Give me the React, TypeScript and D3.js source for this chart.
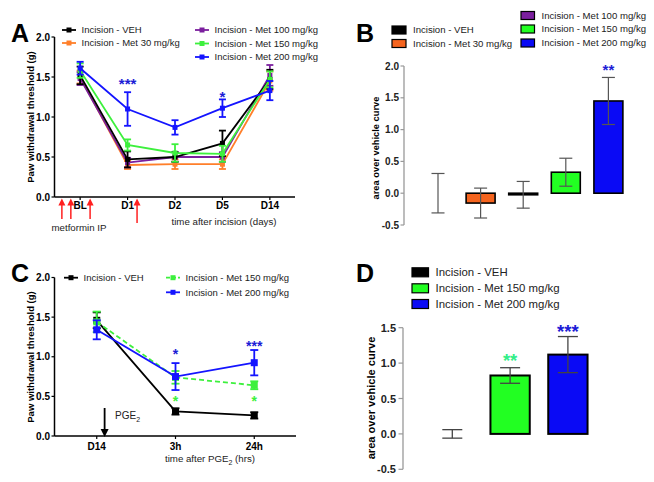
import React from "react";
import * as d3 from "d3";

const FONT = "'Liberation Sans', Arial, Helvetica, sans-serif";

// ---------- Panel A data ----------
const daysA = ["BL", "D1", "D2", "D5", "D14"];
const vehA = [1.52, 0.47, 0.5, 0.67, 1.47];
const vehAErr = [0.11, 0.1, 0.06, 0.16, 0.12];
const met30A = [1.5, 0.4, 0.41, 0.41, 1.45];
const met30AErr = [0.08, 0.05, 0.06, 0.06, 0.12];
const met100A = [1.48, 0.43, 0.5, 0.5, 1.52];
const met100AErr = [0.08, 0.06, 0.06, 0.06, 0.13];
const met150A = [1.58, 0.65, 0.55, 0.54, 1.47];
const met150AErr = [0.09, 0.07, 0.11, 0.1, 0.1];
const met200A = [1.61, 1.1, 0.87, 1.11, 1.33];
const met200AErr = [0.08, 0.21, 0.09, 0.11, 0.12];
const injectionsA = [-0.385, -0.196, 0.21, 1.2];
const starsA = [
  { i: 1, v: 1.46, t: "***" },
  { i: 3, v: 1.3, t: "*" },
];

// ---------- Panel B data ----------
const groupsB = [
  "Incision - VEH",
  "Incision - Met 30 mg/kg",
  "Incision - Met 100 mg/kg",
  "Incision - Met 150 mg/kg",
  "Incision - Met 200 mg/kg",
];
const valuesB = [0, -0.155, -0.025, 0.33, 1.45];
const errB = [0.31, 0.235, 0.21, 0.22, 0.37];
const starsB = [{ i: 4, v: 1.99, t: "**" }];

// ---------- Panel C data ----------
const timesC = ["D14", "3h", "24h"];
const vehC = [1.46, 0.31, 0.26];
const vehCErr = [0.1, 0.04, 0.04];
const met150C = [1.44, 0.74, 0.64];
const met150CErr = [0.13, 0.08, 0.05];
const met200C = [1.34, 0.75, 0.925];
const met200CErr = [0.12, 0.17, 0.16];
const pgeC = 0.1;
const starsC = [
  { i: 1, v: 1.07, t: "*", c: "#1c1cd6" },
  { i: 1, v: 0.48, t: "*", c: "#3df03d" },
  { i: 2, v: 1.18, t: "***", c: "#1c1cd6" },
  { i: 2, v: 0.48, t: "*", c: "#3df03d" },
];

// ---------- Panel D data ----------
const groupsD = ["Incision - VEH", "Incision - Met 150 mg/kg", "Incision - Met 200 mg/kg"];
const valuesD = [0, 0.825, 1.12];
const errD = [0.06, 0.11, 0.255];
const starsD = [
  { i: 1, v: 1.09, t: "**", c: "#33ee88" },
  { i: 2, v: 1.5, t: "***", c: "#1c1cd6" },
];

const ticksA = [0, 0.5, 1, 1.5, 2];
const ticksB = [-0.5, 0, 0.5, 1, 1.5, 2];
const ticksD = [-0.5, 0, 0.5, 1, 1.5];

const C = {
  veh: "#000000",
  m30: "#ff7f2a",
  m30bar: "#f5641e",
  m100: "#7b1f9e",
  m150: "#3df03d",
  m150bar: "#22ff22",
  m200: "#1414ff",
  m200bar: "#0a0af5",
  star: "#1c1cd6",
};

const fmt = (v: number) => v.toFixed(1);

function ErrBar({ x, y1, y2, cap, color, w = 1.8 }: any) {
  return (
    <g stroke={color} strokeWidth={w} fill="none">
      <line x1={x} x2={x} y1={y1} y2={y2} />
      <line x1={x - cap / 2} x2={x + cap / 2} y1={y1} y2={y1} />
      <line x1={x - cap / 2} x2={x + cap / 2} y1={y2} y2={y2} />
    </g>
  );
}

function Stars({ x, y, t, color, size }: any) {
  return (
    <text x={x} y={y + size * 0.58} fontSize={size} fontWeight="bold" fill={color} textAnchor="middle" fontFamily={FONT}>
      {t}
    </text>
  );
}

function LineSeries({ values, errs, color, x, y, cap, ms, dash, lw = 1.8 }: any) {
  const line = d3
    .line<number>()
    .x((_, i) => x(i))
    .y((d) => y(d));
  return (
    <g>
      <path d={line(values) || ""} fill="none" stroke={color} strokeWidth={lw} strokeDasharray={dash} />
      {values.map((v: number, i: number) => (
        <ErrBar key={"e" + i} x={x(i)} y1={y(v + errs[i])} y2={y(v - errs[i])} cap={cap} color={color} />
      ))}
      {values.map((v: number, i: number) => (
        <rect key={"m" + i} x={x(i) - ms / 2} y={y(v) - ms / 2} width={ms} height={ms} fill={color} />
      ))}
    </g>
  );
}

function LegendLine({ x, y, color, label, fs, dash }: any) {
  return (
    <g>
      <line x1={x} x2={x + 14} y1={y} y2={y} stroke={color} strokeWidth={1.8} strokeDasharray={dash} />
      <rect x={x + 4.5} y={y - 2.5} width={5} height={5} fill={color} />
      <text x={x + 19.5} y={y + fs * 0.36} fontSize={fs} fontFamily={FONT} fill="#222">
        {label}
      </text>
    </g>
  );
}

function LegendBox({ x, y, w, h, color, label, fs }: any) {
  return (
    <g>
      <rect x={x} y={y - h / 2} width={w} height={h} fill={color} stroke="#000" strokeWidth={1.2} />
      <text x={x + w + 7} y={y + fs * 0.36} fontSize={fs} fontFamily={FONT} fill="#222">
        {label}
      </text>
    </g>
  );
}

function Arrow({ x, yTip, yTail, color, head = 7, w = 1.5 }: any) {
  const dir = yTail > yTip ? 1 : -1; // direction from tip toward tail
  const base = yTip + dir * head;
  return (
    <g>
      <line x1={x} x2={x} y1={yTip + dir * head * 0.8} y2={yTail} stroke={color} strokeWidth={w} />
      <path d={`M${x},${yTip} L${x - head / 2},${base} L${x + head / 2},${base} Z`} fill={color} />
    </g>
  );
}

function PanelA() {
  const x = d3.scaleLinear().domain([-0.53, 4.53]).range([55, 295]);
  const y = d3.scaleLinear().domain([0, 2]).range([197, 37]);
  const series = [
    { v: met30A, e: met30AErr, c: C.m30 },
    { v: met100A, e: met100AErr, c: C.m100 },
    { v: vehA, e: vehAErr, c: C.veh },
    { v: met150A, e: met150AErr, c: C.m150 },
    { v: met200A, e: met200AErr, c: C.m200 },
  ];
  return (
    <g>
      <text x={11} y={42} fontSize={25} fontWeight="bold" fontFamily={FONT}>A</text>
      <line x1={54.5} x2={54.5} y1={y(2)} y2={y(0)} stroke="#000" strokeWidth={1.5} />
      <line x1={54.5} x2={295} y1={y(0)} y2={y(0)} stroke="#000" strokeWidth={1.5} />
      {ticksA.map((t) => (
        <g key={t}>
          <line x1={51.5} x2={54.5} y1={y(t)} y2={y(t)} stroke="#000" strokeWidth={1.2} />
          <text x={50} y={y(t) + 3.5} fontSize={10} fontWeight="bold" textAnchor="end" fontFamily={FONT}>{fmt(t)}</text>
        </g>
      ))}
      {daysA.map((d, i) => (
        <g key={d}>
          <line x1={x(i)} x2={x(i)} y1={y(0)} y2={y(0) + 3} stroke="#000" strokeWidth={1.2} />
          <text x={x(i)} y={208.5} fontSize={10} fontWeight="bold" textAnchor="middle" fontFamily={FONT}>{d}</text>
        </g>
      ))}
      <text transform={`translate(34,117) rotate(-90)`} fontSize={9.5} fontWeight="bold" textAnchor="middle" fontFamily={FONT}>
        Paw withdrawal threshold (g)
      </text>
      <text x={224} y={225} fontSize={9.7} textAnchor="middle" fontFamily={FONT} fill="#222">time after incision (days)</text>
      <text x={79} y={230.5} fontSize={9.7} textAnchor="middle" fontFamily={FONT} fill="#222">metformin IP</text>
      {injectionsA.map((p, k) => (
        <Arrow key={k} x={x(p)} yTip={198.5} yTail={k === 3 ? 223 : 219} color="#ff2020" />
      ))}
      {series.map((s, k) => (
        <LineSeries key={k} values={s.v} errs={s.e} color={s.c} x={x} y={y} cap={7} ms={5} />
      ))}
      {starsA.map((s, k) => (
        <Stars key={k} x={x(s.i)} y={y(s.v)} t={s.t} color={C.star} size={15} />
      ))}
      <LegendLine x={62} y={30} color={C.veh} label={groupsB[0]} fs={9.5} />
      <LegendLine x={62} y={43} color={C.m30} label={groupsB[1]} fs={9.5} />
      <LegendLine x={195} y={30} color={C.m100} label={groupsB[2]} fs={9.5} />
      <LegendLine x={195} y={43.5} color={C.m150} label={groupsB[3]} fs={9.5} />
      <LegendLine x={195} y={57} color={C.m200} label={groupsB[4]} fs={9.5} />
    </g>
  );
}

function PanelB() {
  const x = d3.scaleBand<string>().domain(groupsB).range([416.7, 629.7]).paddingInner(0.32).paddingOuter(0.16);
  const y = d3.scaleLinear().domain([-0.5, 2]).range([225, 66]);
  const fills = ["#000", C.m30bar, C.m100, C.m150bar, C.m200bar];
  return (
    <g>
      <text x={356} y={42} fontSize={25} fontWeight="bold" fontFamily={FONT}>B</text>
      <line x1={404} x2={404} y1={y(2)} y2={y(-0.5)} stroke="#999" strokeWidth={1.3} />
      {ticksB.map((t) => (
        <g key={t}>
          <line x1={400.5} x2={404} y1={y(t)} y2={y(t)} stroke="#999" strokeWidth={1.2} />
          <text x={399} y={y(t) + 3.5} fontSize={10} fontWeight="bold" textAnchor="end" fontFamily={FONT} fill="#222">{fmt(t)}</text>
        </g>
      ))}
      <text transform={`translate(379,148) rotate(-90)`} fontSize={9.3} fontWeight="bold" textAnchor="middle" fontFamily={FONT}>
        area over vehicle curve
      </text>
      {groupsB.map((g, i) => {
        const v = valuesB[i];
        if (v === 0) return null;
        const y0 = y(Math.max(0, v));
        const h = Math.max(Math.abs(y(v) - y(0)), 1.2);
        return (
          <rect key={g} x={x(g)} y={v >= 0 ? y0 : y(0)} width={x.bandwidth()} height={h} fill={fills[i]} stroke="#000" strokeWidth={1.6} />
        );
      })}
      {groupsB.map((g, i) => (
        <ErrBar key={"e" + g} x={(x(g) as number) + x.bandwidth() / 2} y1={y(valuesB[i] + errB[i])} y2={y(valuesB[i] - errB[i])} cap={13} color="#555" w={1.2} />
      ))}
      {starsB.map((s, k) => (
        <Stars key={k} x={(x(groupsB[s.i]) as number) + x.bandwidth() / 2} y={y(s.v)} t={s.t} color={C.star} size={15} />
      ))}
      <LegendBox x={392} y={30} w={14} h={8} color="#000" label={groupsB[0]} fs={9.6} />
      <LegendBox x={392} y={43.5} w={14} h={8} color={C.m30bar} label={groupsB[1]} fs={9.6} />
      <LegendBox x={521} y={15.5} w={13.5} h={8} color={C.m100} label={groupsB[2]} fs={9.6} />
      <LegendBox x={521} y={29} w={13.5} h={8} color={C.m150bar} label={groupsB[3]} fs={9.6} />
      <LegendBox x={521} y={43} w={13.5} h={8} color={C.m200bar} label={groupsB[4]} fs={9.6} />
    </g>
  );
}

function PanelC() {
  const x = d3.scaleLinear().domain([-0.53, 2.53]).range([55, 296]);
  const y = d3.scaleLinear().domain([0, 2]).range([436, 277.5]);
  return (
    <g>
      <text x={11} y={282} fontSize={25} fontWeight="bold" fontFamily={FONT}>C</text>
      <line x1={54.5} x2={54.5} y1={y(2)} y2={y(0)} stroke="#000" strokeWidth={1.5} />
      <line x1={54.5} x2={296} y1={y(0)} y2={y(0)} stroke="#000" strokeWidth={1.5} />
      {ticksA.map((t) => (
        <g key={t}>
          <line x1={51.5} x2={54.5} y1={y(t)} y2={y(t)} stroke="#000" strokeWidth={1.2} />
          <text x={50} y={y(t) + 3.5} fontSize={10} fontWeight="bold" textAnchor="end" fontFamily={FONT}>{fmt(t)}</text>
        </g>
      ))}
      {timesC.map((d, i) => (
        <g key={d}>
          <line x1={x(i)} x2={x(i)} y1={y(0)} y2={y(0) + 3} stroke="#000" strokeWidth={1.2} />
          <text x={x(i)} y={449.5} fontSize={10} fontWeight="bold" textAnchor="middle" fontFamily={FONT}>{d}</text>
        </g>
      ))}
      <text transform={`translate(34,357) rotate(-90)`} fontSize={9.5} fontWeight="bold" textAnchor="middle" fontFamily={FONT}>
        Paw withdrawal threshold (g)
      </text>
      <text x={210} y={462} fontSize={9.7} textAnchor="middle" fontFamily={FONT} fill="#222">
        time after PGE<tspan fontSize={7} dy={2.5}>2</tspan><tspan dy={-2.5}> (hrs)</tspan>
      </text>
      <Arrow x={x(pgeC)} yTip={437} yTail={408} color="#000" head={8} w={1.8} />
      <text x={115} y={419} fontSize={10} fontFamily={FONT} fill="#222">
        PGE<tspan fontSize={7} dy={2.5}>2</tspan>
      </text>
      <LineSeries values={vehC} errs={vehCErr} color={C.veh} x={x} y={y} cap={8} ms={7} />
      <LineSeries values={met150C} errs={met150CErr} color={C.m150} x={x} y={y} cap={8} ms={7} dash="5,3" />
      <LineSeries values={met200C} errs={met200CErr} color={C.m200} x={x} y={y} cap={8} ms={7} />
      {starsC.map((s, k) => (
        <Stars key={k} x={x(s.i)} y={y(s.v)} t={s.t} color={s.c} size={14} />
      ))}
      <LegendLine x={64} y={277.7} color={C.veh} label={groupsD[0]} fs={9.5} />
      <LegendLine x={166} y={277.7} color={C.m150} label={groupsD[1]} fs={9.5} dash="4,2" />
      <LegendLine x={166} y={292.3} color={C.m200} label={groupsD[2]} fs={9.5} />
    </g>
  );
}

function PanelD() {
  const x = d3.scaleBand<string>().domain(groupsD).range([423.4, 596.8]).paddingInner(0.32).paddingOuter(0.16);
  const y = d3.scaleLinear().domain([-0.5, 1.5]).range([469.3, 327.7]);
  const fills = ["#000", C.m150bar, C.m200bar];
  return (
    <g>
      <text x={356} y={282} fontSize={25} fontWeight="bold" fontFamily={FONT}>D</text>
      <line x1={403} x2={403} y1={y(1.5)} y2={y(-0.5)} stroke="#999" strokeWidth={1.3} />
      {ticksD.map((t) => (
        <g key={t}>
          <line x1={398.5} x2={403} y1={y(t)} y2={y(t)} stroke="#999" strokeWidth={1.2} />
          <text x={396} y={y(t) + 4} fontSize={11} fontWeight="bold" textAnchor="end" fontFamily={FONT} fill="#222">{fmt(t)}</text>
        </g>
      ))}
      <text transform={`translate(374.5,398) rotate(-90)`} fontSize={11.1} fontWeight="bold" textAnchor="middle" fontFamily={FONT}>
        area over vehicle curve
      </text>
      {groupsD.map((g, i) => {
        const v = valuesD[i];
        if (v === 0) return null;
        return (
          <rect key={g} x={x(g)} y={y(v)} width={x.bandwidth()} height={y(0) - y(v)} fill={fills[i]} stroke="#000" strokeWidth={2} />
        );
      })}
      {groupsD.map((g, i) => (
        <ErrBar key={"e" + g} x={(x(g) as number) + x.bandwidth() / 2} y1={y(valuesD[i] + errD[i])} y2={y(valuesD[i] - errD[i])} cap={20} color="#444" w={1.3} />
      ))}
      {starsD.map((s, k) => (
        <Stars key={k} x={(x(groupsD[s.i]) as number) + x.bandwidth() / 2} y={y(s.v)} t={s.t} color={s.c} size={18.5} />
      ))}
      <LegendBox x={412} y={272.3} w={16.5} h={9} color="#000" label={groupsD[0]} fs={11.4} />
      <LegendBox x={412} y={288.3} w={16.5} h={9} color={C.m150bar} label={groupsD[1]} fs={11.4} />
      <LegendBox x={412} y={304} w={16.5} h={9} color={C.m200bar} label={groupsD[2]} fs={11.4} />
    </g>
  );
}

export default function App() {
  return (
    <svg
      width={654}
      height={482}
      viewBox="0 0 654 482"
      style={{ position: "absolute", left: 0, top: 0, background: "#fff" }}
      fontFamily={FONT}
    >
      <rect width={654} height={482} fill="#fff" />
      <PanelA />
      <PanelB />
      <PanelC />
      <PanelD />
    </svg>
  );
}
